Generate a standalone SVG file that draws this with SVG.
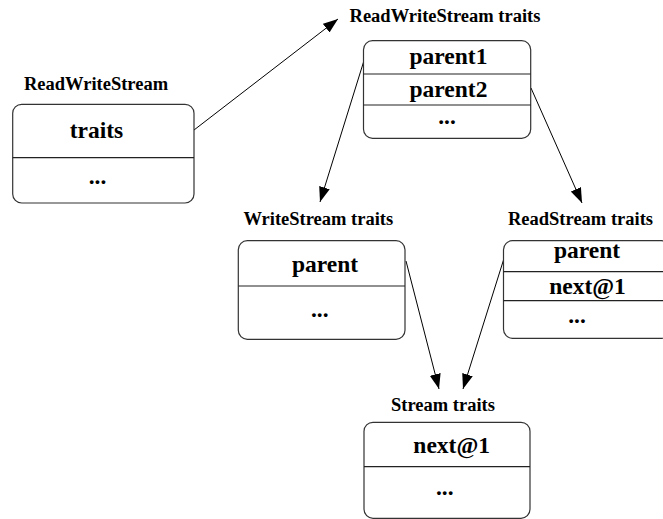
<svg xmlns="http://www.w3.org/2000/svg" width="663" height="519" viewBox="0 0 663 519">
<style>
.box{fill:#fff;stroke:#333;stroke-width:1.2}
.div{stroke:#222;stroke-width:1.2}
.lbl{font-family:"Liberation Serif","Times New Roman",serif;font-weight:bold;font-size:18.5px;text-anchor:middle;fill:#000}
.fld{font-family:"Liberation Serif","Times New Roman",serif;font-weight:bold;font-size:23.5px;text-anchor:middle;fill:#000}
.con{stroke:#000;stroke-width:1;fill:none;marker-end:url(#ah)}
</style>
<defs>
<marker id="ah" markerUnits="userSpaceOnUse" markerWidth="15" markerHeight="11" refX="15" refY="5.5" orient="auto">
<path d="M0,0 L15,5.5 L0,11 z" fill="#000"/>
</marker>
</defs>
<rect width="663" height="519" fill="#fff"/>
<g id="connectors">
<line class="con" x1="194" y1="130" x2="338" y2="19"/>
<line class="con" x1="364" y1="60.5" x2="320" y2="202"/>
<line class="con" x1="531" y1="88" x2="582" y2="203"/>
<line class="con" x1="406" y1="261" x2="439" y2="389"/>
<line class="con" x1="503.5" y1="260" x2="463" y2="389"/>
</g>
<g id="node-readwritestream">
<text class="lbl" x="96" y="90">ReadWriteStream</text>
<rect class="box" x="12.7" y="104.3" width="181.3" height="98.7" rx="9"/>
<line class="div" x1="12.7" y1="157.7" x2="194" y2="157.7"/>
<text class="fld" x="96.5" y="138.3">traits</text>
<text class="fld" x="97.5" y="184.3">...</text>
</g>
<g id="node-readwritestream-traits">
<text class="lbl" x="445" y="22.3">ReadWriteStream traits</text>
<rect class="box" x="363.5" y="40.7" width="167.2" height="97.6" rx="9"/>
<line class="div" x1="363.5" y1="74" x2="530.7" y2="74"/>
<line class="div" x1="363.5" y1="105" x2="530.7" y2="105"/>
<text class="fld" x="448.5" y="64.3">parent1</text>
<text class="fld" x="448.5" y="96.7">parent2</text>
<text class="fld" x="447" y="124">...</text>
</g>
<g id="node-writestream-traits">
<text class="lbl" x="318.3" y="225">WriteStream traits</text>
<rect class="box" x="238.3" y="240.7" width="166.7" height="98.6" rx="9"/>
<line class="div" x1="238.3" y1="286" x2="405" y2="286"/>
<text class="fld" x="325" y="271.7">parent</text>
<text class="fld" x="319.7" y="316.7">...</text>
</g>
<g id="node-readstream-traits">
<text class="lbl" x="580.5" y="225">ReadStream traits</text>
<rect class="box" x="503.5" y="240.7" width="167" height="97.6" rx="9"/>
<line class="div" x1="503.5" y1="271.7" x2="670.5" y2="271.7"/>
<line class="div" x1="503.5" y1="300.7" x2="670.5" y2="300.7"/>
<text class="fld" x="587" y="258.3">parent</text>
<text class="fld" x="587.5" y="294">next@1</text>
<text class="fld" x="577" y="323.3">...</text>
</g>
<g id="node-stream-traits">
<text class="lbl" x="443" y="410.7">Stream traits</text>
<rect class="box" x="364" y="422.3" width="166" height="96" rx="9"/>
<line class="div" x1="364" y1="466.7" x2="530" y2="466.7"/>
<text class="fld" x="451.7" y="453.3">next@1</text>
<text class="fld" x="444.7" y="495">...</text>
</g>
</svg>
